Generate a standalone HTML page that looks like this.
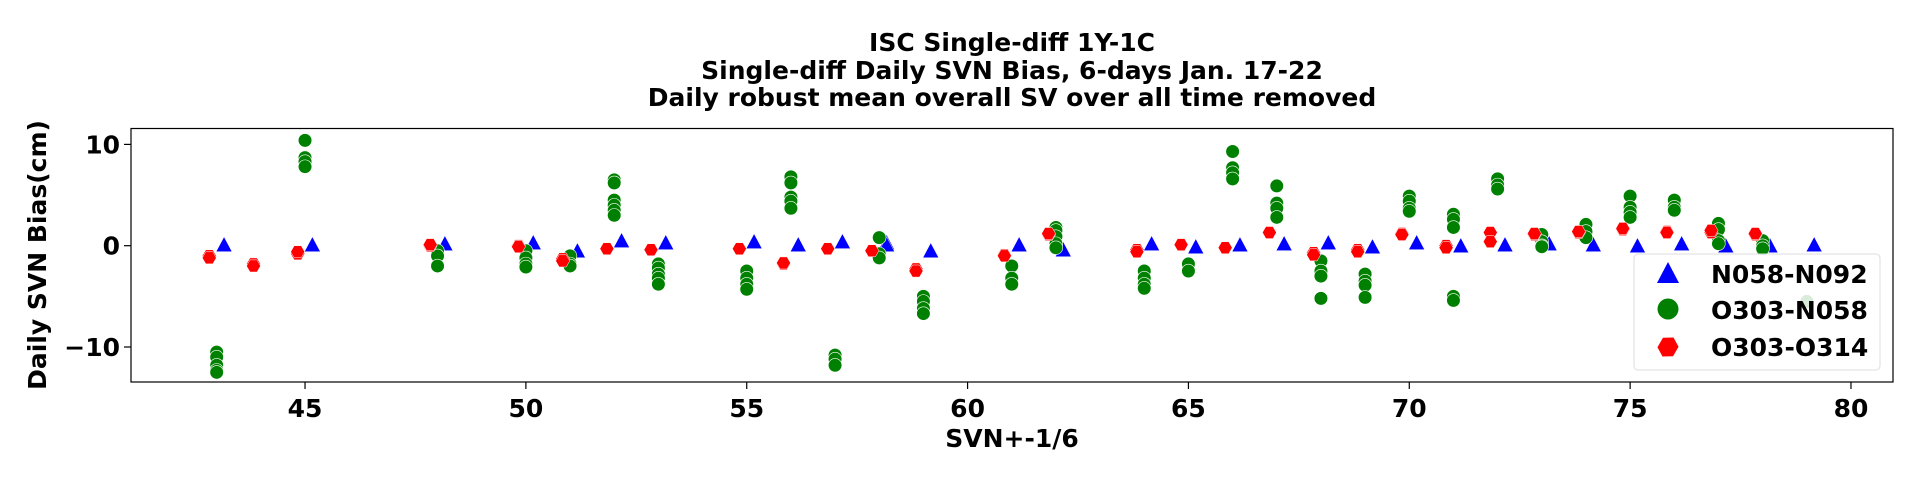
<!DOCTYPE html>
<html><head><meta charset="utf-8">
<style>
html,body{margin:0;padding:0;background:#fff;}
svg{display:block;font-family:"DejaVu Sans","Liberation Sans",sans-serif;font-weight:bold;}
</style></head>
<body>
<svg id="s" width="1920" height="480" xmlns="http://www.w3.org/2000/svg">
<rect width="1920" height="480" fill="#fff"/>
<text x="1012" y="51" font-size="25" text-anchor="middle">ISC Single-diff 1Y-1C</text>
<text x="1012" y="79" font-size="25" text-anchor="middle">Single-diff Daily SVN Bias, 6-days Jan. 17-22</text>
<text x="1012" y="106" font-size="25" text-anchor="middle">Daily robust mean overall SV over all time removed</text>
<g id="pts"></g>
<rect x="131" y="128.5" width="1762" height="253.5" fill="none" stroke="#000" stroke-width="1.2"/>
<g id="ticks" font-size="25"></g>
<text x="1012" y="447" font-size="25" text-anchor="middle">SVN+-1/6</text>
<text transform="translate(46,255) rotate(-90)" font-size="25" text-anchor="middle">Daily SVN Bias(cm)</text>
<g>
<rect x="1634" y="254" width="246" height="116" rx="4" fill="#fff" fill-opacity="0.85" stroke="#ddd" stroke-width="1"/>
<polygon points="1668,262 1679,283 1657,283" fill="#0000ff"/>
<circle cx="1668" cy="309" r="10.5" fill="#008000"/>
<polygon points="1668,336 1677,341.5 1677,352.5 1668,358 1659,352.5 1659,341.5" fill="#ff0000" transform="rotate(30 1668 347)"/>
<text x="1711" y="283" font-size="25">N058-N092</text>
<text x="1711" y="319" font-size="25">O303-N058</text>
<text x="1711" y="356" font-size="25">O303-O314</text>
</g>
</svg>
<script>
var NS="http://www.w3.org/2000/svg";
function px(x){return 131+(x-41.06)*44.17;}
function py(y){return 245.7-y*10.13;}
var D={
43:[[-1.1,-1.0,-1.2],[-10.5,-11,-11.8,-12.3,-12.5],[0]],
44:[[-1.8,-2.0],[],[]],
45:[[-0.8,-0.6],[10.4,8.7,8.3,7.8],[0]],
48:[[0,0.1],[-0.5,-1,-2],[0.1]],
50:[[0,-0.1],[-0.5,-1.2,-1.8,-2.1],[0.2]],
51:[[-1.3,-1.5],[-1.0,-1.8,-2.0],[-0.6]],
52:[[-0.3],[6.5,6.2,4.5,4.0,3.5,3.0],[0.4]],
53:[[-0.4],[-1.8,-2.2,-2.8,-3.2,-3.8],[0.2]],
55:[[-0.3],[-2.5,-3.2,-3.8,-4.3],[0.3]],
56:[[-1.8,-1.7],[6.8,6.2,4.8,4.4,3.7],[0]],
57:[[-0.3],[-10.8,-11.2,-11.8],[0.3]],
58:[[-0.5],[0.8,-0.8,-1.2],[0.2,0]],
59:[[-2.3,-2.5],[-5,-5.5,-6.2,-6.7],[-0.6]],
61:[[-0.9,-1.0],[-2,-3.2,-3.8],[0]],
62:[[1.1,1.2],[1.8,1.5,0.9,0.2,-0.2],[-0.5]],
64:[[-0.4,-0.6],[-2.5,-3.2,-3.8,-4.2],[0.1]],
65:[[0.1],[-1.8,-2.5],[-0.2]],
66:[[-0.2],[9.3,7.7,7.2,6.6],[0]],
67:[[1.3],[5.9,4.2,3.7,2.8],[0.1]],
68:[[-0.7,-0.9],[-1.5,-2.5,-3,-5.2],[0.2]],
69:[[-0.4,-0.6],[-2.8,-3.5,-3.9,-5.1],[-0.2]],
70:[[1.2,1.1],[4.9,4.4,3.7,3.4],[0.2]],
71:[[0,-0.2],[3.1,2.6,1.8,-5,-5.4],[-0.1]],
72:[[1.3,0.4],[6.6,6.0,5.6],[0]],
73:[[1.1,1.2],[1.1,0.4,0,-0.1],[0.1]],
74:[[1.3,1.4],[2.1,1.4,0.8],[0]],
75:[[1.6,1.7],[4.9,3.8,3.3,2.8],[-0.1]],
76:[[1.4,1.3],[4.5,3.8,3.5],[0.1]],
77:[[1.3,1.5],[2.2,1.6,0.5,0.2],[-0.1]],
78:[[1.1,1.2],[0.5,0,-0.3],[-0.1]],
79:[[],[-5.5],[0]]
};
var g=document.getElementById("pts"),h="";
for(var k in D){var s=+k,d=D[k];
 d[2].forEach(function(v){var x=px(s+1/6),y=py(v);
  h+='<polygon points="'+x+','+(y-9)+' '+(x+8)+','+(y+6)+' '+(x-8)+','+(y+6)+'" fill="#0000ff" stroke="#fff" stroke-width="0.5"/>';});
 d[1].forEach(function(v){var x=px(s),y=py(v);
  h+='<circle cx="'+x+'" cy="'+y+'" r="6.8" fill="#008000" stroke="#fff" stroke-width="0.6"/>';});
 d[0].forEach(function(v){var x=px(s-1/6),y=py(v),p=[];
  for(var i=0;i<6;i++){var a=Math.PI/3*i;p.push((x+7*Math.cos(a)).toFixed(1)+','+(y+7*Math.sin(a)).toFixed(1));}
  h+='<polygon points="'+p.join(' ')+'" fill="#ff0000" stroke="#fff" stroke-width="0.5"/>';});
}
g.innerHTML=h;
var t="";
for(var v=45;v<=80;v+=5){var x=px(v);t+='<line x1="'+x+'" y1="382" x2="'+x+'" y2="389" stroke="#000" stroke-width="1.2"/><text x="'+x+'" y="417" text-anchor="middle">'+v+'</text>';}
[10,0,-10].forEach(function(v){var y=py(v);t+='<line x1="124" y1="'+y+'" x2="131" y2="'+y+'" stroke="#000" stroke-width="1.2"/><text x="120" y="'+(y+9)+'" text-anchor="end">'+(v<0?'\u2212'+(-v):v)+'</text>';});
document.getElementById("ticks").innerHTML=t;
</script>
</body></html>
